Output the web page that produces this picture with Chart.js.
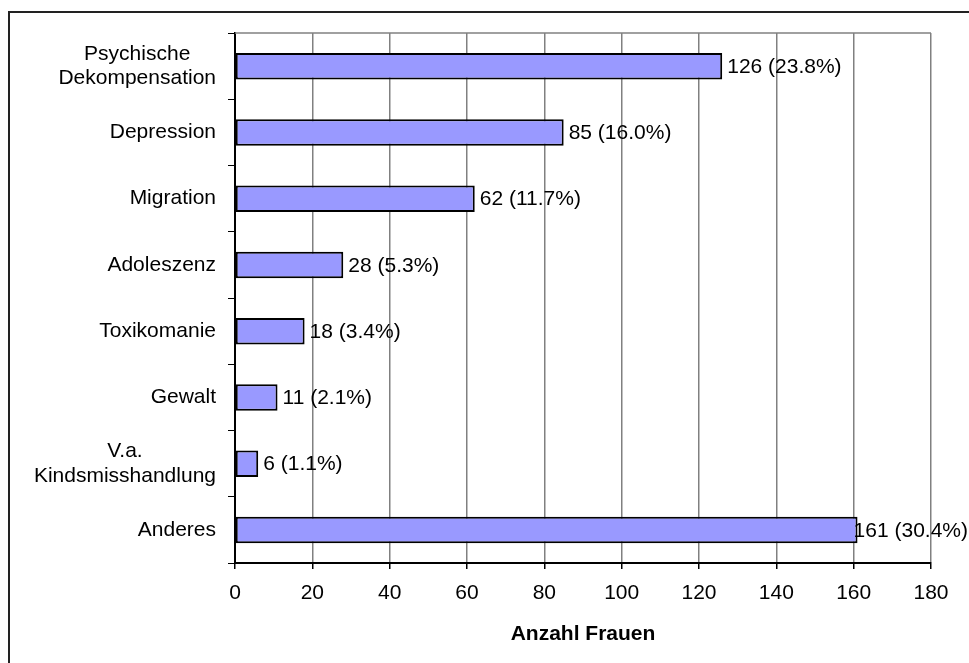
<!DOCTYPE html>
<html>
<head>
<meta charset="utf-8">
<script src="https://cdn.jsdelivr.net/npm/chart.js@4.4.0/dist/chart.umd.min.js"></script>
<style>
  html, body { margin: 0; padding: 0; background: #fff; }
  #wrap { position: relative; width: 969px; height: 663px; }
  #frame { position: absolute; left: 8px; top: 11px; right: 0; bottom: 0;
           border-top: 2px solid #222; border-left: 2px solid #222; }
  canvas { position: absolute; left: 0; top: 0; }
</style>
</head>
<body>
<div id="wrap">
  <div id="frame"></div>
  <canvas id="chart" width="969" height="663"></canvas>
</div>
<script>
const categories = [
  ['Psychische', 'Dekompensation'],
  'Depression',
  'Migration',
  'Adoleszenz',
  'Toxikomanie',
  'Gewalt',
  ['V.a.', 'Kindsmisshandlung'],
  'Anderes'
];
const counts = [126, 85, 62, 28, 18, 11, 6, 161];
const percents = ['23.8', '16.0', '11.7', '5.3', '3.4', '2.1', '1.1', '30.4'];
const xTicks = [0, 20, 40, 60, 80, 100, 120, 140, 160, 180];

const fontFamily = '"Liberation Sans", Arial, sans-serif';
const fontSize = 21;

// bar end labels like "126 (23.8%)"
const valueLabels = {
  id: 'valueLabels',
  afterDatasetsDraw(chart) {
    const ctx = chart.ctx;
    const meta = chart.getDatasetMeta(0);
    ctx.save();
    ctx.font = fontSize + 'px ' + fontFamily;
    ctx.fillStyle = '#000';
    ctx.textAlign = 'left';
    ctx.textBaseline = 'middle';
    meta.data.forEach((bar, i) => {
      const txt = counts[i] + ' (' + percents[i] + '%)';
      const w = ctx.measureText(txt).width;
      const x = Math.min(bar.x + 5, chart.width - w - 1);
      ctx.fillText(txt, x, bar.y + 1);
    });
    ctx.restore();
  }
};

// category labels: block right aligned, lines centred within the block
const catLabels = {
  id: 'catLabels',
  afterDraw(chart) {
    const { ctx } = chart;
    const y = chart.scales.y;
    const rightEdge = y.right - 7 - 12;
    const lineH = 24.5;
    ctx.save();
    ctx.font = fontSize + 'px ' + fontFamily;
    ctx.fillStyle = '#000';
    ctx.textAlign = 'center';
    ctx.textBaseline = 'middle';
    categories.forEach((lab, i) => {
      const lines = Array.isArray(lab) ? lab : [lab];
      const maxW = Math.max(...lines.map(l => ctx.measureText(l).width));
      const cx = rightEdge - maxW / 2;
      const cy = y.getPixelForTick(i);
      lines.forEach((l, j) => {
        ctx.fillText(l, cx, cy + (j - (lines.length - 1) / 2) * lineH);
      });
    });
    ctx.restore();
  }
};

// gray top edge of the plot area
const topEdge = {
  id: 'topEdge',
  beforeDatasetsDraw(chart) {
    const { ctx, chartArea } = chart;
    ctx.save();
    ctx.strokeStyle = '#808080';
    ctx.lineWidth = 1.5;
    ctx.beginPath();
    ctx.moveTo(chartArea.left, chartArea.top);
    ctx.lineTo(chartArea.right, chartArea.top);
    ctx.stroke();
    ctx.restore();
  }
};

new Chart(document.getElementById('chart'), {
  type: 'bar',
  data: {
    labels: categories,
    datasets: [{
      data: counts,
      backgroundColor: '#9999FF',
      borderColor: '#000',
      borderWidth: 2,
      borderSkipped: false,
      barPercentage: 0.4,
      categoryPercentage: 1.0
    }]
  },
  options: {
    indexAxis: 'y',
    responsive: false,
    animation: false,
    layout: { padding: { top: 33, right: 38, left: 0, bottom: 16 } },
    plugins: {
      legend: { display: false },
      tooltip: { enabled: false }
    },
    scales: {
      x: {
        min: 0,
        max: 180,
        afterBuildTicks: axis => { axis.ticks = xTicks.map(v => ({ value: v })); },
        afterFit: axis => { axis.height = 84; },
        ticks: { color: '#000', font: { family: fontFamily, size: fontSize }, padding: 12, maxRotation: 0 },
        grid: { color: '#808080', lineWidth: 1.5, tickColor: '#000', tickLength: 6 },
        border: { color: '#000', width: 2 },
        title: {
          display: true,
          text: 'Anzahl Frauen',
          color: '#000',
          font: { family: fontFamily, size: fontSize, weight: 'bold' },
          padding: { top: 12, bottom: 0 }
        }
      },
      y: {
        afterFit: axis => { axis.width = 235; },
        ticks: { color: 'rgba(0,0,0,0)', font: { family: fontFamily, size: fontSize, lineHeight: 1.15 }, padding: 12 },
        grid: { offset: true, drawOnChartArea: false, tickColor: '#000', tickLength: 7 },
        border: { color: '#000', width: 2 }
      }
    }
  },
  plugins: [valueLabels, catLabels, topEdge]
});
</script>
</body>
</html>
